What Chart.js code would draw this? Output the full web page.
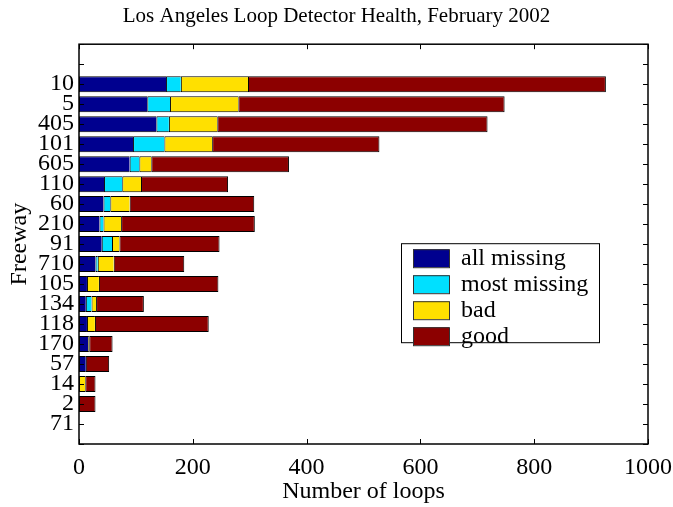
<!DOCTYPE html>
<html>
<head>
<meta charset="utf-8">
<title>Los Angeles Loop Detector Health</title>
<script src="https://cdn.jsdelivr.net/npm/chart.js@4.4.1/dist/chart.umd.min.js"></script>
<style>
  html, body { margin: 0; padding: 0; background: #fff; }
  #chart { display: block; }
</style>
</head>
<body>
<canvas id="chart" width="673" height="507"></canvas>
<script>
"use strict";

/* =========================================================================
  Data (number of loops per freeway)
=========================================================================== */
const FREEWAYS = ["10", "5", "405", "101", "605", "110", "60", "210", "91",
  "710", "105", "134", "118", "170", "57", "14", "2", "71"];
const ALL_MISSING = [153, 120, 136, 95, 89, 44, 43, 36, 40, 29, 14, 12, 14, 16, 12, 0, 0, 0];
const MOST_MISSING = [26, 40, 22, 55, 17, 32, 12, 7, 18, 4, 0, 10, 0, 0, 0, 0, 0, 0];
const BAD = [118, 120, 85, 84, 21, 33, 34, 31, 13, 28, 21, 8, 14, 2, 0, 11, 0, 0];
const GOOD = [629, 468, 475, 294, 242, 153, 219, 235, 176, 124, 210, 84, 200, 41, 41, 18, 29, 0];
const X_TICKS = [0, 200, 400, 600, 800, 1000];

const SERIES = [
  { label: "all missing", data: ALL_MISSING, color: "#00008F" },
  { label: "most missing", data: MOST_MISSING, color: "#00E0FF" },
  { label: "bad", data: BAD, color: "#FFE000" },
  { label: "good", data: GOOD, color: "#8C0000" },
];

const FONT = "'Liberation Serif', 'DejaVu Serif', serif";
const FONT_SIZE = 24;

/* =========================================================================
  Helpers
=========================================================================== */
// one empty slot above and below the freeway list, like the matlab axes
const padRows = (arr) => [null, null, ...arr, null];

/* =========================================================================
  Plugins: matlab style box with inward ticks, legend inside the axes
=========================================================================== */
const boxPlugin = {
  id: "matlabBox",
  afterDraw(chart) {
    const { ctx, chartArea: a, scales } = chart;
    ctx.save();
    ctx.strokeStyle = "#000";
    ctx.lineWidth = 1;
    ctx.beginPath();
    X_TICKS.forEach((v) => {
      const px = Math.round(scales.x.getPixelForValue(v)) + 0.5;
      ctx.moveTo(px, a.bottom);
      ctx.lineTo(px, a.bottom - 5);
      ctx.moveTo(px, a.top);
      ctx.lineTo(px, a.top + 5);
    });
    scales.y.ticks.forEach((t, i) => {
      const py = Math.round(scales.y.getPixelForTick(i)) + 0.5;
      ctx.moveTo(a.left, py);
      ctx.lineTo(a.left + 5, py);
      ctx.moveTo(a.right, py);
      ctx.lineTo(a.right - 5, py);
    });
    ctx.stroke();
    ctx.lineWidth = 1.5;
    ctx.strokeRect(a.left, a.top, a.right - a.left, a.bottom - a.top);
    ctx.restore();
  },
};

const legendPlugin = {
  id: "insideLegend",
  afterDraw(chart) {
    const { ctx, chartArea: a } = chart;
    const x0 = a.left + 322;
    const y0 = a.top + 199;
    ctx.save();
    ctx.fillStyle = "#fff";
    ctx.fillRect(x0, y0, 198, 99);
    ctx.strokeStyle = "#000";
    ctx.lineWidth = 1;
    ctx.strokeRect(x0 + 0.5, y0 + 0.5, 198, 99);
    ctx.font = FONT_SIZE + "px " + FONT;
    ctx.textBaseline = "middle";
    chart.data.datasets.forEach((ds, i) => {
      const sy = y0 + 6 + i * 26;
      ctx.fillStyle = ds.backgroundColor;
      ctx.fillRect(x0 + 12, sy, 36, 18);
      ctx.strokeStyle = "#333";
      ctx.strokeRect(x0 + 12.5, sy + 0.5, 36, 18);
      ctx.fillStyle = "#000";
      ctx.fillText(ds.label, x0 + 60, sy + 10);
    });
    ctx.restore();
  },
};

/* =========================================================================
  Chart
=========================================================================== */
const lastIdx = SERIES.length - 1;

new Chart(document.getElementById("chart"), {
  type: "bar",
  data: {
    labels: ["", "", ...FREEWAYS, ""],
    datasets: SERIES.map((s, i) => ({
      label: s.label,
      data: padRows(s.data),
      backgroundColor: s.color,
      borderColor: "#000",
      borderWidth: i === lastIdx
        ? 1
        : { top: 1, bottom: 1, left: 1, right: 0 },
      borderSkipped: false,
      barPercentage: 0.8,
      categoryPercentage: 1,
    })),
  },
  options: {
    indexAxis: "y",
    responsive: false,
    animation: false,
    devicePixelRatio: 1,
    layout: { padding: 0 },
    scales: {
      x: {
        type: "linear",
        stacked: true,
        min: 0,
        max: 1000,
        grid: { display: false, drawTicks: false },
        border: { display: false },
        ticks: {
          stepSize: 200,
          color: "#000",
          padding: 9,
          font: { family: FONT, size: FONT_SIZE },
          callback: (v) => String(v),
        },
        title: {
          display: true,
          text: "Number of loops",
          color: "#000",
          font: { family: FONT, size: FONT_SIZE },
          padding: { top: 0, bottom: 1 },
        },
        afterFit: (scale) => {
          scale.height = 63;
          scale.paddingLeft = 0;
          scale.paddingRight = 25;
        },
      },
      y: {
        type: "category",
        stacked: true,
        offset: false,
        grid: { display: false, drawTicks: false },
        border: { display: false },
        ticks: {
          color: "#000",
          padding: 5,
          autoSkip: false,
          font: { family: FONT, size: FONT_SIZE },
        },
        title: {
          display: true,
          text: "Freeway",
          color: "#000",
          font: { family: FONT, size: FONT_SIZE },
          padding: { top: 5, bottom: 0 },
        },
        afterFit: (scale) => {
          scale.width = 79;
          scale.paddingTop = 0;
          scale.paddingBottom = 0;
        },
      },
    },
    plugins: {
      legend: { display: false },
      tooltip: { enabled: false },
      title: {
        display: true,
        text: "Los Angeles Loop Detector Health, February 2002",
        color: "#000",
        font: { family: FONT, size: 21, weight: "normal" },
        padding: { top: 4, bottom: 15 },
      },
    },
  },
  plugins: [boxPlugin, legendPlugin],
});
</script>
</body>
</html>
